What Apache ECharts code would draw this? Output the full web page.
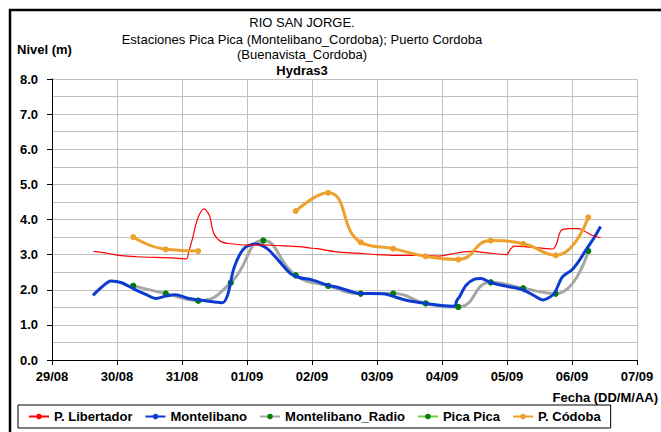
<!DOCTYPE html>
<html><head><meta charset="utf-8">
<script src="https://cdn.jsdelivr.net/npm/echarts@6/dist/echarts.min.js"></script>
<style>html,body{margin:0;padding:0;background:#fff}#c{width:661px;height:432px}</style>
</head><body><div id="c"></div><script>
// X positions are days elapsed since 29/08 00:00
const tickLabels = ['29/08','30/08','31/08','01/09','02/09','03/09','04/09','05/09','06/09','07/09'];
const seriesNames = ['P. Libertador','Montelibano','Montelibano_Radio','Pica Pica','P. Códoba'];

const libertadorDays = [0.64,0.85,1.07,1.3,1.6,1.85,2.07,2.1,2.16,2.24,2.34,2.42,2.49,2.6,2.75,3.0,3.2,3.45,3.67,3.85,3.95,4.08,4.38,4.7,5.0,5.3,5.66,5.96,6.15,6.3,6.47,6.7,6.99,7.06,7.11,7.3,7.5,7.7,7.76,7.83,7.95,8.1,8.2,8.31,8.44];
const libertadorLevels = [3.09,3.04,2.97,2.94,2.92,2.91,2.88,3.05,3.45,4.02,4.30,4.12,3.60,3.37,3.31,3.27,3.28,3.26,3.24,3.22,3.19,3.17,3.08,3.04,3.00,2.98,2.98,2.96,3.02,3.07,3.09,3.05,3.00,3.17,3.24,3.22,3.19,3.16,3.30,3.68,3.74,3.74,3.66,3.55,3.48];

const montelibanoDays = [0.63,0.75,0.91,1.07,1.27,1.45,1.6,1.75,1.9,2.09,2.3,2.5,2.62,2.7,2.8,2.95,3.13,3.31,3.5,3.67,3.8,4.0,4.23,4.43,4.6,4.74,4.9,5.12,5.3,5.45,5.7,5.96,6.19,6.23,6.27,6.37,6.5,6.6,6.73,6.88,7.05,7.24,7.4,7.55,7.65,7.73,7.85,8.0,8.1,8.21,8.33,8.44];
const montelibanoLevels = [1.84,2.05,2.25,2.20,2.01,1.86,1.75,1.82,1.86,1.76,1.70,1.65,1.63,1.84,2.62,3.17,3.30,3.17,2.80,2.46,2.35,2.28,2.14,2.05,1.95,1.89,1.89,1.88,1.78,1.70,1.62,1.56,1.53,1.70,1.80,2.13,2.30,2.32,2.22,2.14,2.08,2.00,1.85,1.71,1.78,1.90,2.36,2.57,2.80,3.12,3.45,3.80];

const stationDays = [1.25,1.75,2.25,2.75,3.25,3.75,4.25,4.75,5.25,5.75,6.25,6.75,7.25,7.75,8.25];
const radioLevels = [2.11,1.89,1.69,2.20,3.40,2.41,2.11,1.89,1.89,1.61,1.51,2.21,2.04,1.89,3.10];
const picaPicaLevels = [2.11,1.89,1.69,2.20,3.40,2.41,2.11,1.89,1.89,1.61,1.51,2.21,2.04,1.89,3.10];
const cordobaLevels = [3.50,3.15,3.10,null,null,4.24,4.76,3.35,3.17,2.95,2.86,3.40,3.31,2.98,4.06];

const pair = (xs, ys) => xs.map((x, i) => [x, ys[i]]);
const chart = echarts.init(document.getElementById('c'), null, {renderer: 'svg'});
const FONT = 'Liberation Sans, Arial, sans-serif';
const grid = '#c0c0c0';
const TX = 302;

chart.setOption({
  animation: false,
  backgroundColor: '#fff',
  grid: {left: 52, right: 24, top: 79, bottom: 72, containLabel: false},
  xAxis: {
    type: 'value', min: 0, max: 9, interval: 1,
    axisLine: {show: true, onZero: false, lineStyle: {color: '#000', width: 1}},
    axisTick: {show: true, inside: false, length: 5, lineStyle: {color: '#000'}},
    axisLabel: {margin: 10, color: '#000', fontFamily: FONT, fontWeight: 'bold', fontSize: 13,
      showMinLabel: true, showMaxLabel: true,
      formatter: v => tickLabels[Math.round(v)] || ''},
    splitLine: {show: true, lineStyle: {color: grid, width: 1}}
  },
  yAxis: {
    type: 'value', min: 0, max: 8, interval: 1,
    axisLine: {show: true, lineStyle: {color: '#000', width: 1}},
    axisTick: {show: true, inside: false, length: 5, lineStyle: {color: '#000'}},
    axisLabel: {margin: 14, color: '#000', fontFamily: FONT, fontWeight: 'bold', fontSize: 13,
      formatter: v => v.toFixed(1)},
    splitLine: {show: true, lineStyle: {color: grid, width: 1}},
    minorTick: {show: false, splitNumber: 2},
    minorSplitLine: {show: true, lineStyle: {color: grid, width: 1}}
  },
  legend: {
    data: seriesNames,
    left: 18, top: 405,
    padding: [5, 10, 5, 10],
    borderColor: '#000', borderWidth: 1,
    itemGap: 12, itemWidth: 20, itemHeight: 7,
    textStyle: {fontFamily: FONT, fontWeight: 'bold', fontSize: 13, color: '#000'}
  },
  graphic: [
    {type: 'rect', shape: {x: 10, y: 10, width: 1000, height: 1000}, style: {fill: 'none', stroke: '#000', lineWidth: 2.5}, silent: true},
    {type: 'text', x: TX, y: 22, style: {text: 'RIO SAN JORGE.', font: '13px ' + FONT, fill: '#000', textAlign: 'center', textVerticalAlign: 'middle'}},
    {type: 'text', x: TX, y: 39, style: {text: 'Estaciones Pica Pica (Montelibano_Cordoba); Puerto Cordoba', font: '13px ' + FONT, fill: '#000', textAlign: 'center', textVerticalAlign: 'middle'}},
    {type: 'text', x: TX, y: 54.5, style: {text: '(Buenavista_Cordoba)', font: '13px ' + FONT, fill: '#000', textAlign: 'center', textVerticalAlign: 'middle'}},
    {type: 'text', x: TX, y: 70, style: {text: 'Hydras3', font: 'bold 13px ' + FONT, fill: '#000', textAlign: 'center', textVerticalAlign: 'middle'}},
    {type: 'text', x: 17, y: 49, style: {text: 'Nivel (m)', font: 'bold 13px ' + FONT, fill: '#000', textAlign: 'left', textVerticalAlign: 'middle'}},
    {type: 'text', x: 658, y: 397, style: {text: 'Fecha (DD/M/AA)', font: 'bold 13px ' + FONT, fill: '#000', textAlign: 'right', textVerticalAlign: 'middle'}}
  ],
  series: [
    {name: seriesNames[3], type: 'line', data: pair(stationDays, picaPicaLevels), smooth: 0.5,
      symbol: 'circle', symbolSize: 6, z: 2,
      lineStyle: {color: '#70cc40', width: 2}, itemStyle: {color: '#008000'}},
    {name: seriesNames[2], type: 'line', data: pair(stationDays, radioLevels), smooth: 0.5,
      symbol: 'circle', symbolSize: 6, z: 3,
      lineStyle: {color: '#a6a6a6', width: 3}, itemStyle: {color: '#008000'}},
    {name: seriesNames[1], type: 'line', data: pair(montelibanoDays, montelibanoLevels), smooth: 0.3,
      symbol: 'none', z: 4,
      lineStyle: {color: '#0b3bd0', width: 3}, itemStyle: {color: '#0b3bd0'}},
    {name: seriesNames[0], type: 'line', data: pair(libertadorDays, libertadorLevels), smooth: 0.3,
      symbol: 'none', z: 5,
      lineStyle: {color: '#ff0000', width: 1.2}, itemStyle: {color: '#ff0000'}},
    {name: seriesNames[4], type: 'line', data: pair(stationDays, cordobaLevels), smooth: 0.5,
      connectNulls: false, symbol: 'circle', symbolSize: 6, z: 6,
      lineStyle: {color: '#eea02e', width: 3}, itemStyle: {color: '#eea02e'}}
  ]
});
</script></body></html>
